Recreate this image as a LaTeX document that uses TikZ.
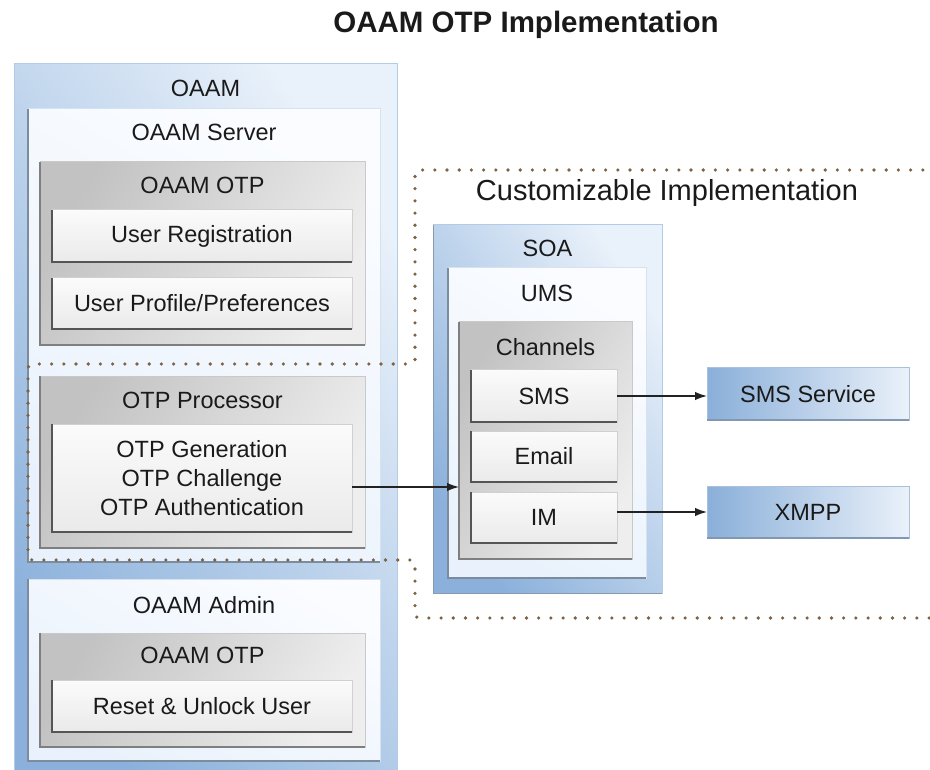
\documentclass[tikz,border=0pt]{standalone}
\usepackage{fontspec}
\setmainfont{Liberation Sans}
\usetikzlibrary{arrows.meta}
\definecolor{txt}{HTML}{1A1A1A}
\definecolor{bDark}{HTML}{8AB0DB}
\definecolor{bLight}{HTML}{E9F1FA}
\definecolor{bEdge}{HTML}{B3CBE6}
\definecolor{bShadow}{HTML}{8A9AAE}
\definecolor{pTop}{HTML}{FAFCFF}
\definecolor{pBot}{HTML}{E9F2FC}
\definecolor{pEdge}{HTML}{D5E2F0}
\definecolor{pShadow}{HTML}{7D8C9C}
\definecolor{gLeft}{HTML}{C2C2C2}
\definecolor{gRight}{HTML}{EEEEEE}
\definecolor{gEdge}{HTML}{C9C9C9}
\definecolor{gShadow}{HTML}{7F7F7F}
\definecolor{wTop}{HTML}{FBFBFB}
\definecolor{wBot}{HTML}{EAEAEA}
\definecolor{wEdge}{HTML}{D0D0D0}
\definecolor{wShadow}{HTML}{555555}
\definecolor{sLeft}{HTML}{8AAFD9}
\definecolor{sRight}{HTML}{EAF1FA}
\definecolor{sEdge}{HTML}{A9C1DC}
\definecolor{sShadow}{HTML}{8198B2}
\definecolor{dots}{HTML}{7E6244}
\definecolor{arrowc}{HTML}{222222}

\newcommand\bx[7]{%
  \node[#2, minimum width={#5-#3}, minimum height={#6-#4}] (#1) at ({(#3+#5)/2},{(#4+#6)/2}) {#7};}
\newcommand\sunk[2]{\draw[#2] (#1.north west) -- (#1.south west) -- (#1.south east);}

\tikzset{
  lab/.style={text=txt, font=\fontsize{23.5}{29}\selectfont, inner sep=0pt},
  bxbase/.style={inner sep=0pt, outer sep=0pt, anchor=center, text=txt, font=\fontsize{23.5}{29}\selectfont, align=center},
  blueouter/.style={bxbase, bottom color=bDark, top color=bLight, shading angle=-55, draw=bEdge, line width=1pt},
  palebox/.style={bxbase, bottom color=pBot, top color=pTop, shading angle=-30, draw=pEdge, line width=1pt},
  graybox/.style={bxbase, left color=gLeft, right color=gRight, shading angle=60, draw=gEdge, line width=1pt},
  whitebox/.style={bxbase, bottom color=wBot, top color=wTop, draw=wEdge, line width=1pt},
  svcbox/.style={bxbase, left color=sLeft, right color=sRight, draw=sEdge, line width=1pt},
  bshadow/.style={bShadow, line width=1pt},
  pshadow/.style={pShadow, line width=1.5pt},
  gshadow/.style={gShadow, line width=1.5pt},
  wshadow/.style={wShadow, line width=2pt},
  sshadow/.style={sShadow, line width=1.5pt},
  dotline/.style={dots, line width=3.6pt, line cap=round, dash pattern=on 0pt off 12.2pt},
  conn/.style={arrowc, line width=1.3pt, -{Latex[length=12pt,width=8.5pt]}},
}

\begin{document}
\begin{tikzpicture}[x=1pt,y=-1pt]
\useasboundingbox (0,0) rectangle (930,770);
\clip (0,0) rectangle (930,770);

% title
\node[text=txt, font=\fontsize{29.5}{34}\selectfont\bfseries, inner sep=0pt] (title) at (526,25) {OAAM OTP Implementation};

% ---------- OAAM (left) ----------
\bx{oaam}{blueouter}{14}{64}{397}{790}{}
\node[lab] (oaamL) at (205.5,88) {OAAM};

\bx{server}{palebox}{28}{109}{380}{562}{}
\sunk{server}{pshadow}
\node[lab] (serverL) at (204,132) {OAAM Server};

\bx{otp1}{graybox}{40}{162}{365}{345}{}
\sunk{otp1}{gshadow}
\node[lab] (otp1L) at (202.5,185) {OAAM OTP};

\bx{ureg}{whitebox}{52}{210}{352}{262}{User Registration}
\sunk{ureg}{wshadow}
\bx{uprof}{whitebox}{52}{278}{352}{329}{User Profile/Preferences}
\sunk{uprof}{wshadow}

\bx{proc}{graybox}{40}{376}{365}{548}{}
\sunk{proc}{gshadow}
\node[lab] (procL) at (202.5,400) {OTP Processor};

\bx{procin}{whitebox}{52}{424}{352}{532}{OTP Generation\\OTP Challenge\\OTP Authentication}
\sunk{procin}{wshadow}

\bx{admin}{palebox}{28}{579}{380}{761}{}
\sunk{admin}{pshadow}
\node[lab] (adminL) at (204,605) {OAAM Admin};

\bx{otp2}{graybox}{40}{633}{365}{747}{}
\sunk{otp2}{gshadow}
\node[lab] (otp2L) at (202.5,655) {OAAM OTP};

\bx{reset}{whitebox}{52}{680}{352}{732}{Reset \& Unlock User}
\sunk{reset}{wshadow}

% ---------- Customizable Implementation (right) ----------
\node[text=txt, font=\fontsize{29}{34}\selectfont, inner sep=0pt] (custL) at (667,193) {Customizable Implementation};

\bx{soa}{blueouter}{433}{225}{662}{593}{}
\sunk{soa}{bshadow}
\node[lab] (soaL) at (547.5,248) {SOA};

\bx{ums}{palebox}{448}{268}{646}{578}{}
\sunk{ums}{pshadow}
\node[lab] (umsL) at (547,293) {UMS};

\bx{chan}{graybox}{459}{322}{632}{559}{}
\sunk{chan}{gshadow}
\node[lab] (chanL) at (545.5,347) {Channels};

\bx{sms}{whitebox}{471}{370}{617}{422}{SMS}
\sunk{sms}{wshadow}
\bx{email}{whitebox}{471}{431}{617}{482}{Email}
\sunk{email}{wshadow}
\bx{im}{whitebox}{471}{492}{617}{543}{IM}
\sunk{im}{wshadow}

\bx{smssvc}{svcbox}{707}{368}{909}{420}{SMS Service}
\draw[sshadow] (smssvc.south west) -- (smssvc.south east);
\bx{xmpp}{svcbox}{707}{486}{909}{538}{XMPP}
\draw[sshadow] (xmpp.south west) -- (xmpp.south east);

% dotted boundary
\draw[dotline, rounded corners=4pt]
  (935,170) -- (415,170) -- (415,364) -- (28,364) -- (28,560) -- (415,560) -- (415,618) -- (935,618);

% connectors
\draw[conn] ([yshift=-9pt]procin.east) -- ([yshift=-9pt]procin.east -| chan.west);
\draw[conn] (sms.east) -- (sms.east -| smssvc.west);
\draw[conn] (xmpp.west -| im.east) -- (xmpp.west);
\end{tikzpicture}
\end{document}
